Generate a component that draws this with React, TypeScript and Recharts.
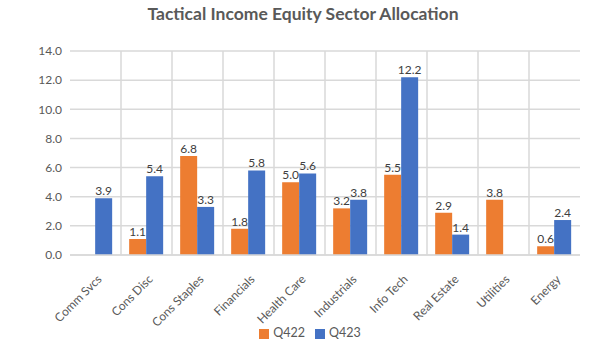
import { BarChart, Bar, XAxis, YAxis, CartesianGrid, Legend, LabelList } from 'recharts'

const sectors = ['Comm Svcs', 'Cons Disc', 'Cons Staples', 'Financials', 'Health Care', 'Industrials', 'Info Tech', 'Real Estate', 'Utilities', 'Energy']
const q422 = [null, 1.1, 6.8, 1.8, 5.0, 3.2, 5.5, 2.9, 3.8, 0.6]
const q423 = [3.9, 5.4, 3.3, 5.8, 5.6, 3.8, 12.2, 1.4, null, 2.4]
const yTicks = [0, 2, 4, 6, 8, 10, 12, 14]

const data = sectors.map((name, i) => ({ name, q422: q422[i], q423: q423[i] }))

const FONT = 'Lato, "Open Sans", sans-serif'
const GRID = '#d9d9d9'
const TEXT = '#595959'

const fmt = (v: any) => (v == null ? '' : Number(v).toFixed(1))

// rotated category labels, text ends near the category centre
function SectorTick({ x, y, payload }: any) {
  return (
    <g transform={`translate(${x + 7},${y + 17})`}>
      <text transform="rotate(-45)" textAnchor="end" fill={TEXT} fontSize={12} fontFamily={FONT}>
        {payload.value}
      </text>
    </g>
  )
}

export default function App() {
  return (
    <div style={{ position: 'absolute', left: 0, top: 0, width: 600, height: 354, background: '#fff' }}>
      <div
        style={{
          position: 'absolute', top: 3, left: 0, width: 606, textAlign: 'center',
          fontFamily: FONT, fontWeight: 700, fontSize: 17.5, color: TEXT,
        }}
      >
        Tactical Income Equity Sector Allocation
      </div>
      <BarChart
        width={600}
        height={354}
        data={data}
        margin={{ top: 51, right: 20, left: 0, bottom: 15 }}
        barCategoryGap="16%"
        barGap={0}
      >
        <CartesianGrid
          stroke={GRID}
          strokeWidth={1.5}
          verticalCoordinatesGenerator={({ offset }: any) =>
            sectors.slice(1).map((_, i) => offset.left + ((i + 1) * offset.width) / sectors.length)
          }
        />
        <XAxis
          dataKey="name"
          interval={0}
          height={60}
          axisLine={{ stroke: GRID, strokeWidth: 1.5 }}
          tickLine={false}
          tick={<SectorTick />}
        />
        <YAxis
          width={70}
          domain={[0, 14]}
          ticks={yTicks}
          tickFormatter={(v) => v.toFixed(1)}
          axisLine={false}
          tickLine={false}
          tick={{ fill: TEXT, fontSize: 12, fontFamily: FONT }}
        />
        <Legend
          verticalAlign="bottom"
          iconType="square"
          iconSize={10}
          height={24}
          wrapperStyle={{ bottom: 5, left: 25, fontFamily: FONT, fontSize: 12.5 }}
          formatter={(value) => <span style={{ color: TEXT }}>{value}</span>}
        />
        <Bar dataKey="q422" name="Q422" fill="#ED7D31" isAnimationActive={false}>
          <LabelList dataKey="q422" position="top" formatter={fmt} fill="#404040" fontSize={12} fontFamily={FONT} offset={3} />
        </Bar>
        <Bar dataKey="q423" name="Q423" fill="#4472C4" isAnimationActive={false}>
          <LabelList dataKey="q423" position="top" formatter={fmt} fill="#404040" fontSize={12} fontFamily={FONT} offset={3} />
        </Bar>
      </BarChart>
    </div>
  )
}
